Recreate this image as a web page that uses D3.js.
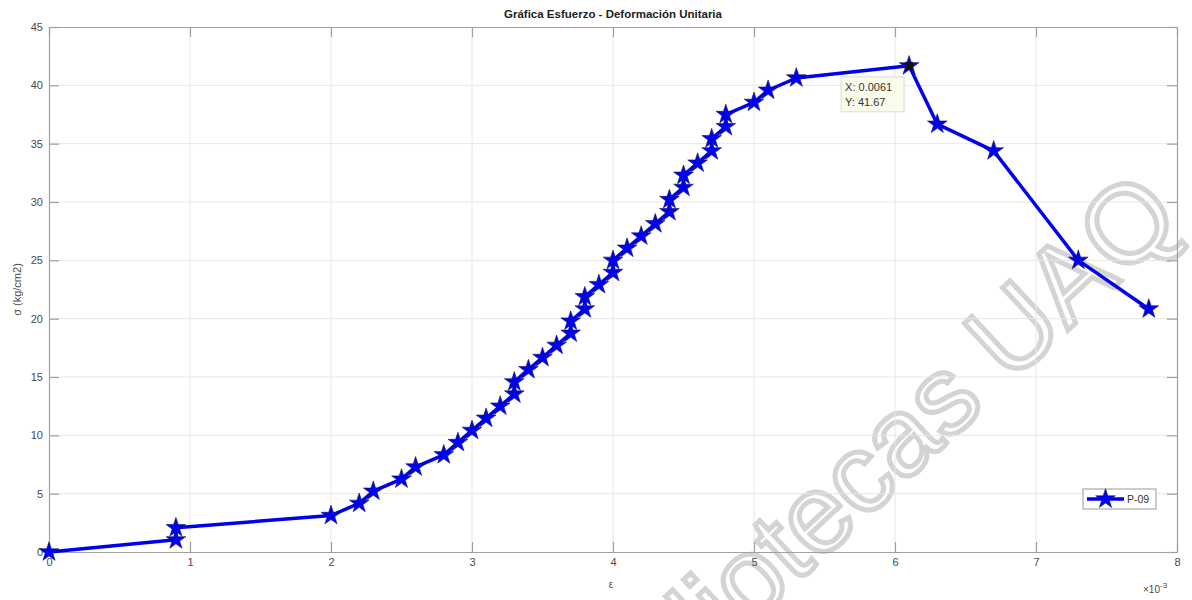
<!DOCTYPE html>
<html>
<head>
<meta charset="utf-8">
<script src="https://cdn.jsdelivr.net/npm/d3@7"></script>
<style>
  html, body { margin: 0; padding: 0; background: #fff; }
  svg { display: block; font-family: "Liberation Sans", Arial, Helvetica, sans-serif; }
</style>
</head>
<body>
<svg id="chart" width="1192" height="600"></svg>
<script>
// Strain (unit strain, dimensionless) for specimen P-09
const strain = [
  0, 0.0009, 0.0009, 0.0020, 0.0022, 0.0023, 0.0025, 0.0026, 0.0028, 0.0029,
  0.0030, 0.0031, 0.0032, 0.0033, 0.0033, 0.0034, 0.0035, 0.0036, 0.0037, 0.0037,
  0.0038, 0.0038, 0.0039, 0.0040, 0.0040, 0.0041, 0.0042, 0.0043, 0.0044, 0.0044,
  0.0045, 0.0045, 0.0046, 0.0047, 0.0047, 0.0048, 0.0048, 0.0050, 0.0051, 0.0053,
  0.0061, 0.0063, 0.0067, 0.0073, 0.0078
];
// Stress in kg/cm2
const stress = [
  0, 1.04, 2.08, 3.13, 4.17, 5.21, 6.25, 7.29, 8.33, 9.38,
  10.42, 11.46, 12.50, 13.54, 14.58, 15.63, 16.67, 17.71, 18.75, 19.79,
  20.83, 21.88, 22.92, 23.96, 25.00, 26.04, 27.08, 28.13, 29.17, 30.21,
  31.25, 32.29, 33.33, 34.38, 35.42, 36.46, 37.50, 38.54, 39.58, 40.63,
  41.67, 36.67, 34.38, 25.00, 20.83
];
const seriesName = "P-09";
const xTicks = [0, 0.001, 0.002, 0.003, 0.004, 0.005, 0.006, 0.007, 0.008];
const yTicks = [0, 5, 10, 15, 20, 25, 30, 35, 40, 45];
const titleText = "Gráfica Esfuerzo - Deformación Unitaria";
const xLabel = "ε";
const yLabel = "σ (kg/cm2)";
const watermark = "Bibliotecas UAQ";
const tipIndex = 40; // data point carrying the data tip

const svg = d3.select("#chart");
const W = 1192, H = 600;
const m = { left: 49, top: 27, right: 1192 - 1177, bottom: 600 - 552 };
const pw = W - m.left - m.right, ph = H - m.top - m.bottom;

const x = d3.scaleLinear().domain([0, 0.008]).range([m.left, m.left + pw]);
const y = d3.scaleLinear().domain([0, 45]).range([m.top + ph, m.top]);

const data = strain.map((s, i) => ({ x: s, y: stress[i] }));
const axisColor = "#a0a0a0";
const textColor = "#4a4a4a";

// background watermark
svg.append("text")
  .attr("transform", "translate(1184,222) rotate(-43)")
  .attr("text-anchor", "end")
  .attr("font-size", 110)
  .attr("fill", "none")
  .attr("stroke", "#d4d4d4")
  .attr("stroke-width", 5)
  .text(watermark);

// grid lines
const grid = svg.append("g");
grid.selectAll(".gx").data(xTicks.slice(1, -1)).join("line")
  .attr("x1", d => x(d)).attr("x2", d => x(d))
  .attr("y1", m.top).attr("y2", m.top + ph)
  .attr("stroke", "#e6e6e6").attr("stroke-width", 1);
grid.selectAll(".gy").data(yTicks.slice(1, -1)).join("line")
  .attr("y1", d => y(d)).attr("y2", d => y(d))
  .attr("x1", m.left).attr("x2", m.left + pw)
  .attr("stroke", "#e6e6e6").attr("stroke-width", 1);

// axes (inward ticks on all four sides, like a boxed plot)
const tickLen = 10;
function styleAxis(g) {
  g.select(".domain").attr("stroke", axisColor).attr("stroke-width", 1.2);
  g.selectAll(".tick line").attr("stroke", axisColor).attr("stroke-width", 1.2);
  g.selectAll(".tick text").attr("fill", textColor).attr("font-size", 11);
}
const fmtX = d => d3.format("d")(Math.round(d * 1000));
svg.append("g").attr("transform", `translate(0,${m.top + ph})`)
  .call(d3.axisBottom(x).tickValues(xTicks).tickFormat(fmtX).tickSizeInner(-tickLen).tickSizeOuter(0).tickPadding(6))
  .call(styleAxis);
svg.append("g").attr("transform", `translate(0,${m.top})`)
  .call(d3.axisTop(x).tickValues(xTicks).tickFormat("").tickSizeInner(-tickLen).tickSizeOuter(0))
  .call(styleAxis);
svg.append("g").attr("transform", `translate(${m.left},0)`)
  .call(d3.axisLeft(y).tickValues(yTicks).tickSizeInner(-tickLen).tickSizeOuter(0).tickPadding(6))
  .call(styleAxis);
svg.append("g").attr("transform", `translate(${m.left + pw},0)`)
  .call(d3.axisRight(y).tickValues(yTicks).tickFormat("").tickSizeInner(-tickLen).tickSizeOuter(0))
  .call(styleAxis);

// exponent note on x axis
const expo = svg.append("text")
  .attr("x", 1143).attr("y", 593)
  .attr("font-size", 10).attr("fill", textColor);
expo.append("tspan").text("×10");
expo.append("tspan").attr("dy", -5).attr("font-size", 8).text("-3");

// title and axis labels
svg.append("text")
  .attr("x", m.left + pw / 2).attr("y", 18)
  .attr("text-anchor", "middle")
  .attr("font-size", 11.5).attr("font-weight", "bold").attr("fill", "#222")
  .text(titleText);
svg.append("text")
  .attr("x", m.left + pw / 2 - 2).attr("y", 588)
  .attr("text-anchor", "middle")
  .attr("font-size", 10).attr("fill", textColor)
  .text(xLabel);
svg.append("text")
  .attr("transform", `translate(21,${m.top + ph / 2}) rotate(-90)`)
  .attr("text-anchor", "middle")
  .attr("font-size", 11).attr("fill", textColor)
  .text(yLabel);

// series line
const line = d3.line().x(d => x(d.x)).y(d => y(d.y));
svg.append("path").datum(data)
  .attr("d", line)
  .attr("fill", "none")
  .attr("stroke", "#0000f0")
  .attr("stroke-width", 3.5)
  .attr("stroke-linejoin", "round");

// pentagram markers
const star = d3.symbol().type(d3.symbolStar).size(120);
svg.append("g").selectAll("path").data(data).join("path")
  .attr("transform", d => `translate(${x(d.x)},${y(d.y)})`)
  .attr("d", star)
  .attr("fill", "#0000f5")
  .attr("stroke", "#10105a")
  .attr("stroke-width", 0.6);

// data tip on peak stress
const tp = data[tipIndex];
svg.append("rect")
  .attr("x", x(tp.x) - 4).attr("y", y(tp.y) - 4)
  .attr("width", 8).attr("height", 8)
  .attr("fill", "#111");
const tipG = svg.append("g").attr("transform", `translate(${x(tp.x) - 68},${y(tp.y) + 11})`);
tipG.append("rect")
  .attr("width", 63).attr("height", 35)
  .attr("fill", "#fbfbeb").attr("stroke", "#dcdcd0").attr("stroke-width", 1);
tipG.append("text").attr("x", 4).attr("y", 14)
  .attr("font-size", 11).attr("fill", "#333")
  .text("X: " + d3.format(".4f")(tp.x));
tipG.append("text").attr("x", 4).attr("y", 29)
  .attr("font-size", 11).attr("fill", "#333")
  .text("Y: " + d3.format(".2f")(tp.y));

// legend
const lg = svg.append("g").attr("transform", "translate(1083,489)");
lg.append("rect").attr("width", 73).attr("height", 20)
  .attr("fill", "#fff").attr("stroke", "#9a9a9a").attr("stroke-width", 1);
lg.append("line").attr("x1", 4).attr("x2", 41).attr("y1", 10).attr("y2", 10)
  .attr("stroke", "#0000f0").attr("stroke-width", 3.5);
lg.append("path").attr("transform", "translate(22.5,10)")
  .attr("d", star).attr("fill", "#0000f5").attr("stroke", "#10105a").attr("stroke-width", 0.6);
lg.append("text").attr("x", 44).attr("y", 14)
  .attr("font-size", 10.5).attr("fill", "#333")
  .text(seriesName);
</script>
</body>
</html>
